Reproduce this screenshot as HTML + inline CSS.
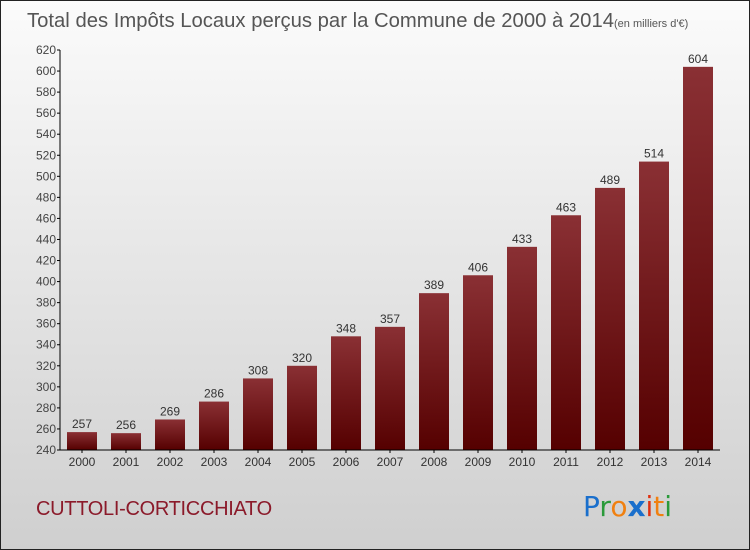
<!DOCTYPE html>
<html><head><meta charset="utf-8"><style>
body{margin:0}
#c{width:750px;height:550px;position:relative;overflow:hidden;font-family:"Liberation Sans",sans-serif}
</style></head><body>
<div id="c">
<svg id="s" width="750" height="550">
<defs>
<linearGradient id="bg" x1="0" y1="0" x2="0" y2="1"><stop offset="0" stop-color="#fbfbfb"/><stop offset="1" stop-color="#cfcfcf"/></linearGradient>
<linearGradient id="bar" x1="0" y1="0" x2="0" y2="1"><stop offset="0" stop-color="#8a3034"/><stop offset="1" stop-color="#550000"/></linearGradient>
</defs>
<rect x="0.5" y="0.5" width="749" height="549" fill="url(#bg)" stroke="#222"/>
<text x="27" y="27" font-size="20" fill="#555" textLength="587" lengthAdjust="spacingAndGlyphs">Total des Impôts Locaux perçus par la Commune de 2000 à 2014</text>
<text x="614" y="27" font-size="11" fill="#555">(en milliers d'€)</text>
<text x="36" y="515" font-size="20" fill="#8b1a2a" letter-spacing="-0.3">CUTTOLI-CORTICCHIATO</text>
<g font-size="28" font-family="'DejaVu Sans',sans-serif">
<text x="583" y="516"><tspan fill="#1a6fcc">P</tspan><tspan fill="#2a9a3a">r</tspan><tspan fill="#f08010">o</tspan><tspan fill="#1a6fcc" font-weight="bold">x</tspan><tspan fill="#e03010">i</tspan><tspan fill="#f08010">t</tspan><tspan fill="#2a9a3a">i</tspan></text>
</g>
<g id="plot"></g>
</svg>
</div>
<script>
const years=["2000","2001","2002","2003","2004","2005","2006","2007","2008","2009","2010","2011","2012","2013","2014"];
const values=[257,256,269,286,308,320,348,357,389,406,433,463,489,514,604];
const ticks=[240,260,280,300,320,340,360,380,400,420,440,460,480,500,520,540,560,580,600,620];
const NS="http://www.w3.org/2000/svg";
const g=document.getElementById('plot');
const y=v=>450-(v-240)*400/380;
const x=i=>82+44*i;
function mk(t,a){const e=document.createElementNS(NS,t);for(const k in a)e.setAttribute(k,a[k]);g.appendChild(e);return e;}
ticks.forEach(t=>{
 const l=mk('line',{x1:57,x2:60,y1:y(t),y2:y(t),stroke:'#000'});
 
 
 const tx=mk('text',{x:56,y:y(t)+4,'font-size':12,fill:'#444','text-anchor':'end'});tx.textContent=t;
 
 
});
values.forEach((v,i)=>{
 const r=mk('rect',{x:x(i)-15,y:y(v),width:30,height:450-y(v),fill:'url(#bar)'});
 
 
 const t=mk('text',{x:x(i),y:y(v)-4,'font-size':12,fill:'#333','text-anchor':'middle'});t.textContent=v;
 
 
 const xl=mk('text',{x:x(i),y:466,'font-size':12,fill:'#333','text-anchor':'middle'});xl.textContent=years[i];
 
 
 const tk=mk('line',{x1:x(i),x2:x(i),y1:450,y2:453,stroke:'#000'});
 
 
});
const ya=mk('line',{x1:60,x2:60,y1:y(620),y2:450,stroke:'#000'});


const xa=mk('line',{x1:60,x2:720,y1:450,y2:450,stroke:'#000'});


</script>
</body></html>
